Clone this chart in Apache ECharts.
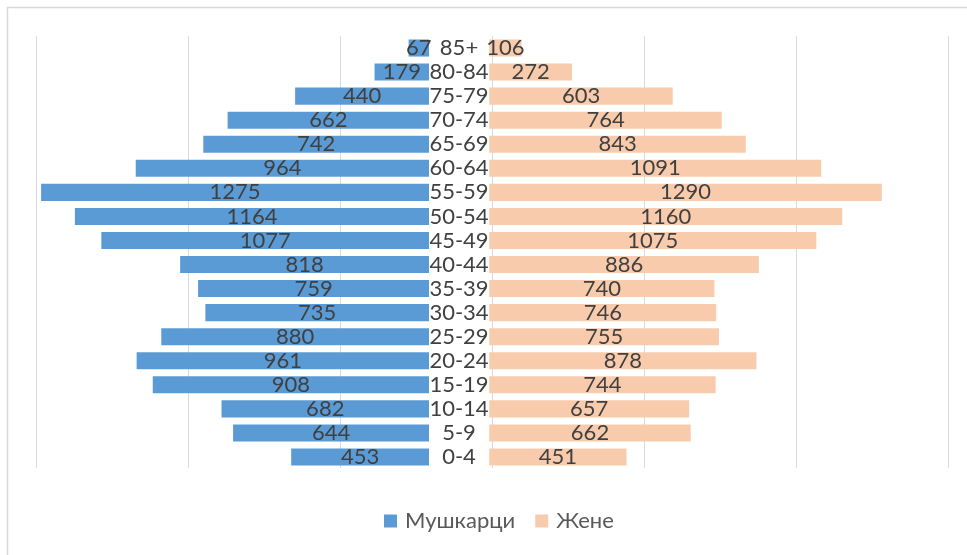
<!DOCTYPE html>
<html>
<head>
<meta charset="utf-8">
<script src="https://cdn.jsdelivr.net/npm/echarts@6/dist/echarts.min.js"></script>
<style>
  html, body { margin: 0; padding: 0; background: #fff; }
  #main { width: 967px; height: 555px; }
</style>
</head>
<body>
<div id="main"></div>
<script>
// age groups, bottom to top
const ageGroups = ['0-4', '5-9', '10-14', '15-19', '20-24', '25-29', '30-34', '35-39', '40-44',
  '45-49', '50-54', '55-59', '60-64', '65-69', '70-74', '75-79', '80-84', '85+'];
const males = [453, 644, 682, 908, 961, 880, 735, 759, 818, 1077, 1164, 1275, 964, 742, 662, 440, 179, 67];
const females = [451, 662, 657, 744, 878, 755, 746, 740, 886, 1075, 1160, 1290, 1091, 843, 764, 603, 272, 106];

const chart = echarts.init(document.getElementById('main'));
const font = 'Lato, "Open Sans", sans-serif';

const option = {
  backgroundColor: '#fff',
  textStyle: { fontFamily: font },
  graphic: [{
    type: 'rect',
    shape: { x: 7.5, y: 7.5, width: 980, height: 580 },
    style: { fill: 'none', stroke: '#d9d9d9', lineWidth: 1.5 },
    silent: true
  }],
  legend: {
    bottom: 18,
    left: 379,
    itemWidth: 13,
    itemHeight: 13,
    itemGap: 20,
    icon: 'rect',
    textStyle: { color: '#595959', fontSize: 22, fontFamily: font, padding: [0, 0, 0, 3] },
    data: ['Мушкарци', 'Жене']
  },
  grid: [
    { left: 33.5, width: 395.5, top: 36, height: 433 },
    { left: 489.3, width: 395.5, top: 36, height: 433 },
    { left: 36, width: 912, top: 36, height: 432 }
  ],
  xAxis: [
    { gridIndex: 0, type: 'value', min: 0, max: 1300, inverse: true, show: false },
    { gridIndex: 1, type: 'value', min: 0, max: 1300, show: false },
    {
      gridIndex: 2, type: 'value', min: 0, max: 6, interval: 1,
      axisLine: { show: false }, axisTick: { show: false }, axisLabel: { show: false },
      splitLine: { show: true, lineStyle: { color: '#d9d9d9', width: 1 } }
    }
  ],
  yAxis: [
    {
      gridIndex: 0, type: 'category', position: 'right', data: ageGroups,
      axisLine: { show: false }, axisTick: { show: false }, splitLine: { show: false },
      axisLabel: { interval: 0, color: '#404040', fontSize: 22, fontFamily: font, align: 'center', margin: 30 }
    },
    {
      gridIndex: 1, type: 'category', data: ageGroups,
      axisLine: { show: false }, axisTick: { show: false }, axisLabel: { show: false }
    },
    { gridIndex: 2, type: 'value', show: false }
  ],
  series: [
    {
      name: 'Мушкарци', type: 'bar', xAxisIndex: 0, yAxisIndex: 0,
      data: males, barCategoryGap: '29%', z: 3,
      itemStyle: { color: '#5b9bd5' },
      label: { show: true, position: 'inside', color: '#404040', fontSize: 22, fontFamily: font }
    },
    {
      name: 'Жене', type: 'bar', xAxisIndex: 1, yAxisIndex: 1,
      data: females, barCategoryGap: '29%', z: 3,
      itemStyle: { color: '#f8cbad' },
      label: { show: true, position: 'inside', color: '#404040', fontSize: 22, fontFamily: font }
    }
  ]
};
chart.setOption(option);
</script>
</body>
</html>
